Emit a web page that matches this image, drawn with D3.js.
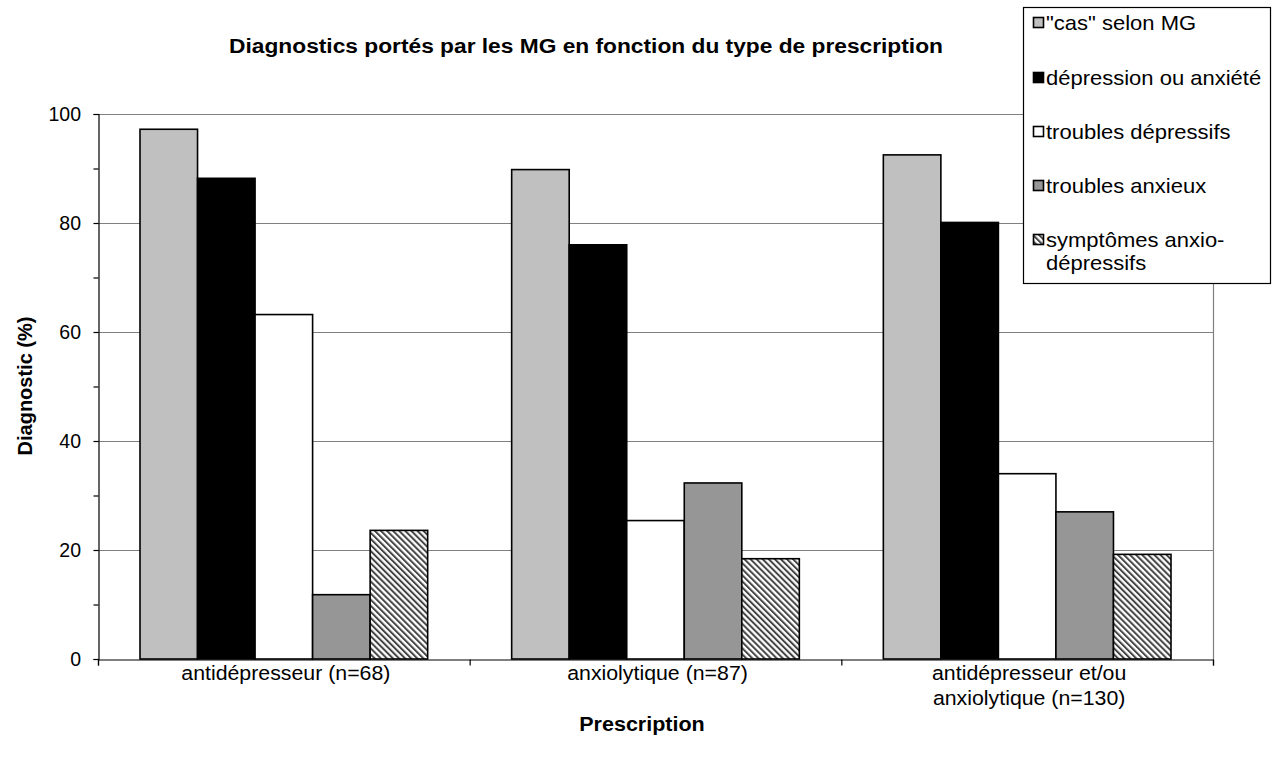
<!DOCTYPE html>
<html><head><meta charset="utf-8">
<script src="https://cdn.jsdelivr.net/npm/d3@7"></script>
<style>
html,body{margin:0;padding:0;background:#fff;}
text{font-family:"Liberation Sans",Arial,sans-serif;fill:#000;}
</style></head>
<body>
<script>
const categories = [["antidépresseur (n=68)"], ["anxiolytique (n=87)"], ["antidépresseur et/ou", "anxiolytique (n=130)"]];
const seriesNames = ['"cas" selon MG', "dépression ou anxiété", "troubles dépressifs", "troubles anxieux", "symptômes anxio-dépressifs"];
const legendLabels = [['"cas" selon MG'], ["dépression ou anxiété"], ["troubles dépressifs"], ["troubles anxieux"], ["symptômes anxio-", "dépressifs"]];
const casSelonMG = [97.2, 89.8, 92.5];
const depressionOuAnxiete = [88.2, 76.0, 80.1];
const troublesDepressifs = [63.2, 25.4, 34.0];
const troublesAnxieux = [11.8, 32.3, 27.0];
const symptomesAnxioDep = [23.6, 18.4, 19.2];
const yTicks = [0, 20, 40, 60, 80, 100];
const title = "Diagnostics portés par les MG en fonction du type de prescription";
const xTitle = "Prescription";
const yTitle = "Diagnostic (%)";

const series = [casSelonMG, depressionOuAnxiete, troublesDepressifs, troublesAnxieux, symptomesAnxioDep];
const fills = ["#c0c0c0", "#000000", "#ffffff", "#969696", "url(#hatch)"];

const W = 1280, H = 769;
const plot = {left: 98, right: 1213, top: 114, bottom: 659};

const svg = d3.select("body").append("svg").attr("width", W).attr("height", H);
const defs = svg.append("defs");
const pat = defs.append("pattern").attr("id", "hatch").attr("patternUnits", "userSpaceOnUse")
  .attr("width", 4.3).attr("height", 4.3).attr("patternTransform", "rotate(-45)");
pat.append("rect").attr("width", 4.3).attr("height", 4.3).attr("fill", "#fff");
pat.append("rect").attr("width", 2).attr("height", 4.3).attr("fill", "#444");

const x0 = d3.scaleBand().domain(d3.range(categories.length)).range([plot.left, plot.right]).padding(0);
const x1 = d3.scaleBand().domain(d3.range(series.length)).range([0, x0.bandwidth()]).paddingOuter(0.73).paddingInner(0);
const y = d3.scaleLinear().domain([0, 100]).range([plot.bottom, plot.top]);

function stext(parent, x, yy, sx, size, lines, opts = {}) {
  const t = parent.append("text")
    .attr("transform", `translate(${x},${yy}) scale(${sx},1)`)
    .attr("text-anchor", opts.anchor || "start")
    .style("font-size", size + "px");
  if (opts.bold) t.style("font-weight", "bold");
  lines.forEach((s, k) => t.append("tspan").attr("x", 0).attr("dy", k === 0 ? (opts.dy || 0) : opts.lh).text(s));
  return t;
}

// gridlines
svg.append("g").selectAll("line").data(yTicks.filter(d => d > 0)).join("line")
  .attr("x1", plot.left).attr("x2", plot.right)
  .attr("y1", d => y(d) + 0.5).attr("y2", d => y(d) + 0.5)
  .attr("stroke", "#808080").attr("stroke-width", 1.2);
svg.append("line").attr("x1", plot.right + 0.5).attr("x2", plot.right + 0.5)
  .attr("y1", plot.top).attr("y2", plot.bottom).attr("stroke", "#808080").attr("stroke-width", 1.2);

// bars
const groups = svg.append("g").selectAll("g").data(categories).join("g")
  .attr("transform", (d, i) => `translate(${x0(i)},0)`);
groups.selectAll("rect").data((d, i) => series.map((s, j) => ({j, v: s[i]}))).join("rect")
  .attr("x", d => x1(d.j)).attr("width", x1.bandwidth())
  .attr("y", d => y(d.v)).attr("height", d => y(0) - y(d.v))
  .attr("fill", d => fills[d.j]).attr("stroke", "#000").attr("stroke-width", 1.6);

// axes
const yAxis = d3.axisLeft(y).tickValues(d3.range(0, 101, 10)).tickSize(5).tickFormat("");
const gy = svg.append("g").attr("transform", `translate(${plot.left + 0.5},0)`).call(yAxis);
gy.select(".domain").attr("stroke", "#000").attr("stroke-width", 1.2);
gy.selectAll(".tick line").attr("stroke", "#000").attr("stroke-width", 1.2);
svg.append("g").selectAll("text").data(yTicks).join("text")
  .attr("x", plot.left - 17).attr("y", d => y(d)).attr("dy", "0.35em")
  .attr("text-anchor", "end").style("font-size", "19.5px").text(d => d);

const xAxis = d3.axisBottom(d3.scaleLinear().domain([0, 3]).range([plot.left, plot.right]))
  .tickValues([0, 1, 2, 3]).tickSize(6).tickFormat("");
const gx = svg.append("g").attr("transform", `translate(0,${plot.bottom + 0.5})`).call(xAxis);
gx.select(".domain").attr("stroke", "#000").attr("stroke-width", 1.2);
gx.selectAll(".tick line").attr("stroke", "#000").attr("stroke-width", 1.2);

// category labels
const cg = svg.append("g");
categories.forEach((c, i) => {
  stext(cg, x0(i) + x0.bandwidth() / 2 + 2, 680, 1.04, 20.5, c, {anchor: "middle", lh: 25});
});

// titles
stext(svg, 586, 53, 1.11, 20.5, [title], {anchor: "middle", bold: true});
stext(svg, 642, 731, 1.05, 20.5, [xTitle], {anchor: "middle", bold: true});
svg.append("text").attr("transform", "translate(32,386) rotate(-90)").attr("text-anchor", "middle")
  .style("font-size", "20px").style("font-weight", "bold").text(yTitle);

// legend
const lg = svg.append("g");
lg.append("rect").attr("x", 1023.5).attr("y", 7.5).attr("width", 247).attr("height", 276)
  .attr("fill", "#fff").attr("stroke", "#000").attr("stroke-width", 1.2);
const rowY = [23, 78, 132, 186, 240];
legendLabels.forEach((lab, j) => {
  lg.append("rect").attr("x", 1033.5).attr("y", rowY[j] - 5.5).attr("width", 10).attr("height", 10)
    .attr("fill", fills[j]).attr("stroke", "#000").attr("stroke-width", 1.6);
  stext(lg, 1046, rowY[j], 1.1, 20, lab, {dy: "0.35em", lh: 23});
});
</script>
</body></html>
